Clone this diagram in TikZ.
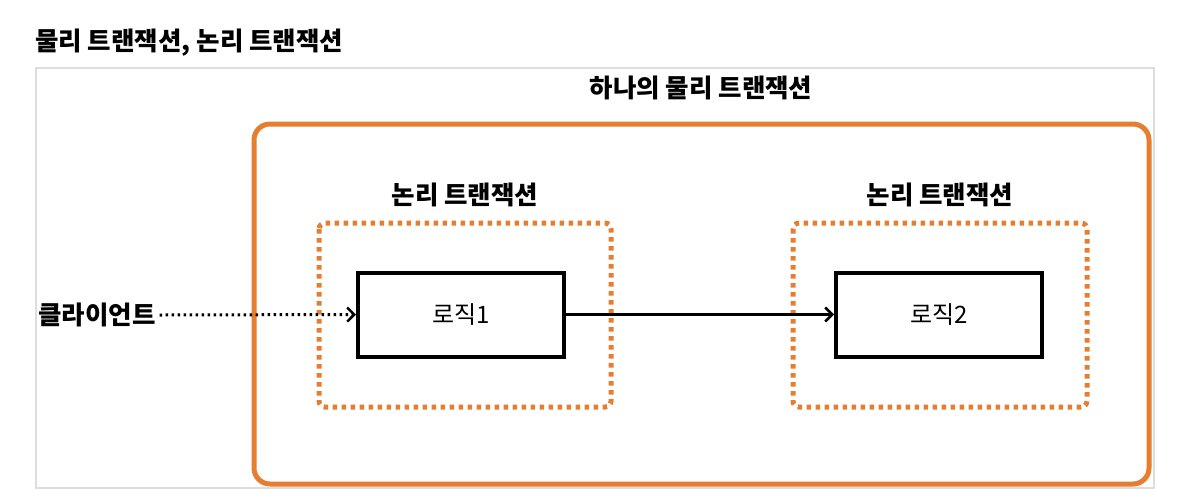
\documentclass[tikz,border=0pt]{standalone}
\usepackage{fontspec}
\setmainfont{Noto Sans CJK KR}
\usetikzlibrary{arrows.meta}
\definecolor{org}{RGB}{230,126,50}
\definecolor{frame}{RGB}{221,221,221}
\tikzset{
  lbl/.style={font=\bfseries\fontsize{25.5}{28}\selectfont, inner sep=0pt},
  logicbox/.style={draw=black, line width=4pt, minimum width=206pt, minimum height=84pt, font=\fontsize{24}{27}\selectfont, inner sep=0pt},
  txbox/.style={draw=org, line width=5pt, dash pattern=on 4.5pt off 4.5pt, rounded corners=6pt},
  arr/.style={line width=3pt, -{Straight Barb[length=7pt,width=14pt,line width=2.5pt]}},
}
\begin{document}
\begin{tikzpicture}[x=1pt,y=-1pt]
\useasboundingbox (0,0) rectangle (1178,496);
\fill[white] (0,0) rectangle (1178,496);
% title
\node[lbl, anchor=west] (title) at (35,43) {물리 트랜잭션, 논리 트랜잭션};
% gray frame
\draw[frame, line width=2pt] (36,68) rectangle (1154,488);
% physical transaction
\draw[org, line width=5pt, rounded corners=16pt] (254,124) rectangle (1149,484);
\node[lbl] (phys) at (701,88) {하나의 물리 트랜잭션};
% logical transactions
\draw[txbox] (319,223) rectangle (611,407);
\draw[txbox] (793,223) rectangle (1087,407);
\node[lbl] (lt1) at (465,195) {논리 트랜잭션};
\node[lbl] (lt2) at (940,195) {논리 트랜잭션};
% logic boxes
\node[logicbox] (l1) at (461,314.5) {로직1};
\node[logicbox] (l2) at (939,314.5) {로직2};
% client
\node[lbl, anchor=west] (client) at (38,315) {클라이언트};
\draw[arr, dash pattern=on 2.5pt off 3.5pt] (client.east) ++(4,0) -- (l1.west);
\draw[arr] (l1.east) -- (l2.west);
\end{tikzpicture}
\end{document}
